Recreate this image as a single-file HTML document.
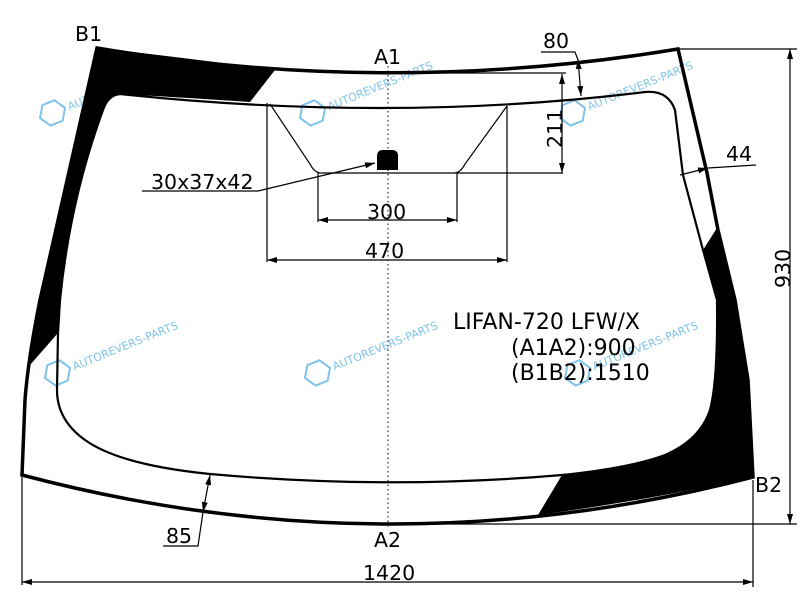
<!DOCTYPE html>
<html><head><meta charset="utf-8"><style>
html,body{margin:0;padding:0;background:#fff;width:800px;height:600px;overflow:hidden}
svg{display:block}
text{font-family:"DejaVu Sans","Liberation Sans",sans-serif;fill:#000}
.wm text{fill:#7fc3e8;font-size:11px}
</style></head><body>
<svg width="800" height="600" viewBox="0 0 800 600" xmlns="http://www.w3.org/2000/svg" style="overflow:hidden">
<defs>
<marker id="a" viewBox="0 0 10 6" refX="10" refY="3" markerWidth="10" markerHeight="6" orient="auto-start-reverse" markerUnits="userSpaceOnUse"><path d="M0,0 L10,3 L0,6 z" fill="#000"/></marker>
</defs>
<g class="wm">
<g transform="translate(40,118) rotate(-22)"><polygon points="0,0 7,-11 20,-11 27,0 20,11 7,11" fill="none" stroke="#7fc3e8" stroke-width="2"/><text x="30" y="4">AUTOREVERS-PARTS</text></g>
<g transform="translate(300,118) rotate(-22)"><polygon points="0,0 7,-11 20,-11 27,0 20,11 7,11" fill="none" stroke="#7fc3e8" stroke-width="2"/><text x="30" y="4">AUTOREVERS-PARTS</text></g>
<g transform="translate(560,118) rotate(-22)"><polygon points="0,0 7,-11 20,-11 27,0 20,11 7,11" fill="none" stroke="#7fc3e8" stroke-width="2"/><text x="30" y="4">AUTOREVERS-PARTS</text></g>
<g transform="translate(45,378) rotate(-22)"><polygon points="0,0 7,-11 20,-11 27,0 20,11 7,11" fill="none" stroke="#7fc3e8" stroke-width="2"/><text x="30" y="4">AUTOREVERS-PARTS</text></g>
<g transform="translate(305,378) rotate(-22)"><polygon points="0,0 7,-11 20,-11 27,0 20,11 7,11" fill="none" stroke="#7fc3e8" stroke-width="2"/><text x="30" y="4">AUTOREVERS-PARTS</text></g>
<g transform="translate(565,378) rotate(-22)"><polygon points="0,0 7,-11 20,-11 27,0 20,11 7,11" fill="none" stroke="#7fc3e8" stroke-width="2"/><text x="30" y="4">AUTOREVERS-PARTS</text></g>
</g>
<path d="M275,70 Q180,57 97,48 L40,300 L30,365 L58,333 L60,300 Q70,200 103,110 Q108,95 120,94 Q190,98 250,102 Z" fill="#000"/>
<path d="M717,228 L735,300 L748,380 L753,477 Q650,500 538,515 L562,475 Q630,468 665,455 Q700,440 710,410 Q718,380 717,300 L703,250 Z" fill="#000"/>
<path d="M97,48 Q388,97 678,49 L707,173 L718,230 L735,300 L748,380 L753,477 Q388,572 22,475 L25,400 Q28,360 40,300 Z" fill="none" stroke="#000" stroke-width="3.5" stroke-linejoin="miter"/>
<path d="M120,94 Q394,123 645,92 Q668,90 675,110 L683,175 L703,250 L717,300 Q718,380 710,410 Q700,440 665,455 Q630,468 562,475 Q388,490 210,474 Q120,465 85,440 Q57,420 57,390 L58,333 L60,300 Q70,200 103,110 Q108,95 120,94 Z" fill="none" stroke="#000" stroke-width="2.2"/>
<line x1="388" y1="66" x2="388" y2="528" stroke="#000" stroke-width="1" stroke-dasharray="1.5,3"/>
<g stroke="#000" stroke-width="1.2" fill="none">
<path d="M270,104 L310,164 Q314,172 320,173 L563,173"/>
<path d="M507,106 L465,164 Q461,172 455,173"/>
<line x1="267" y1="103" x2="267" y2="262"/>
<line x1="507" y1="106" x2="507" y2="262"/>
<line x1="318" y1="173" x2="318" y2="222"/>
<line x1="457" y1="173" x2="457" y2="222"/>
<line x1="318" y1="220" x2="457" y2="220" marker-start="url(#a)" marker-end="url(#a)"/>
<line x1="267" y1="260" x2="507" y2="260" marker-start="url(#a)" marker-end="url(#a)"/>
<polyline points="142,191 258,191 375,163" marker-end="url(#a)"/>
<line x1="400" y1="73" x2="566" y2="73"/>
<line x1="562" y1="74" x2="562" y2="173" marker-start="url(#a)" marker-end="url(#a)"/>
<polyline points="541,52 575,52 578,60"/>
<line x1="578" y1="59" x2="581" y2="96" marker-start="url(#a)" marker-end="url(#a)"/>
<line x1="680" y1="175" x2="708" y2="168" marker-end="url(#a)"/>
<line x1="708" y1="168" x2="756" y2="165"/>
<line x1="678" y1="49" x2="797" y2="49"/>
<line x1="388" y1="524" x2="797" y2="524"/>
<line x1="790" y1="49" x2="790" y2="524" marker-start="url(#a)" marker-end="url(#a)"/>
<line x1="22" y1="477" x2="22" y2="585"/>
<line x1="753" y1="480" x2="753" y2="587"/>
<line x1="22" y1="582" x2="753" y2="582" marker-start="url(#a)" marker-end="url(#a)"/>
<polyline points="163,546 198,546 203,512"/>
<line x1="203" y1="512" x2="210" y2="475" marker-start="url(#a)" marker-end="url(#a)"/>
</g>
<path d="M377,170 L377,156 Q377,150 383,150 L392,150 Q398,150 398,156 L398,170 Z" fill="#000"/>
<g font-size="20.5">
<text x="75" y="41">B1</text>
<text x="374" y="64">A1</text>
<text x="374" y="547">A2</text>
<text x="755" y="492">B2</text>
<text x="151" y="189">30x37x42</text>
<text x="367" y="219">300</text>
<text x="365" y="258">470</text>
<text x="543" y="48">80</text>
<text x="726" y="161">44</text>
<text x="166" y="543">85</text>
<text x="363" y="580">1420</text>
<text transform="translate(562,148) rotate(-90)">211</text>
<text transform="translate(790,288) rotate(-90)">930</text>
</g>
<g font-size="22">
<text x="453" y="329">LIFAN-720 LFW/X</text>
<text x="511" y="355">(A1A2):900</text>
<text x="511" y="380">(B1B2):1510</text>
</g>
</svg>
</body></html>
